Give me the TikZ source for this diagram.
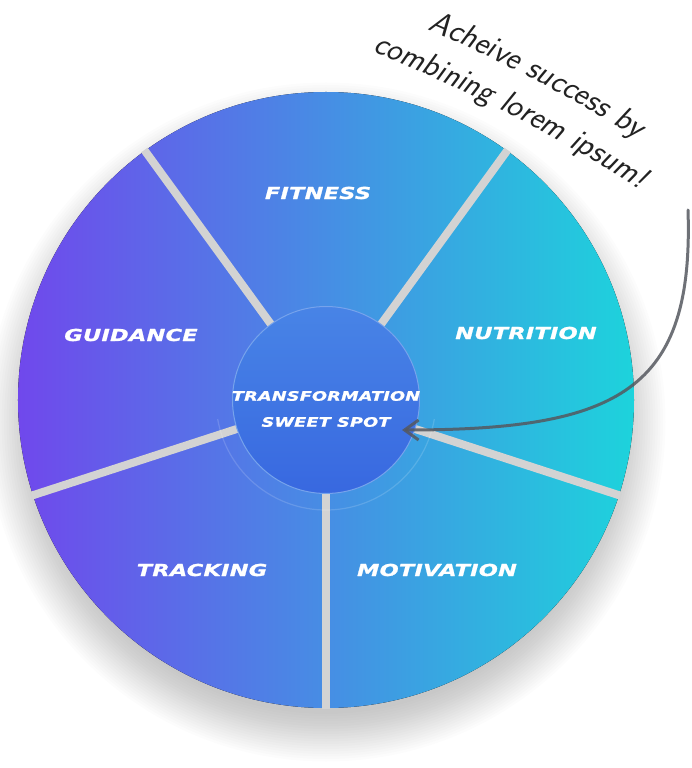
\documentclass[tikz,border=0pt]{standalone}
\usepackage{fontspec}
\usetikzlibrary{calc,arrows.meta,positioning,decorations.text}
\newfontfamily\labelfont{DejaVu Sans}[FakeStretch=1.36,FakeBold=1.2,LetterSpace=1.5]
\definecolor{wheelleft}{RGB}{112, 72, 236}
\definecolor{wheelright}{RGB}{29, 211, 220}
\definecolor{spokegray}{RGB}{211, 211, 211}
\definecolor{spottop}{RGB}{72, 132, 230}
\definecolor{spotbottom}{RGB}{56, 104, 224}
\definecolor{notegray}{RGB}{85, 88, 95}
\definecolor{inkblack}{RGB}{34, 34, 34}
\newcommand{\notefont}{\fontsize{32}{32}\selectfont\sffamily\itshape\color{inkblack}}
\tikzset{
  sectorlabel/.style={text=white, inner sep=0pt, font=\labelfont\bfseries\itshape\fontsize{16.5}{19}\selectfont},
  spotlabel/.style={text=white, inner sep=0pt, align=center, font=\labelfont\bfseries\itshape\fontsize{13}{26}\selectfont},
  spokeline/.style={draw=spokegray, line width=8pt},
  notearrow/.style={draw=notegray, draw opacity=0.85, line width=3pt, line cap=round, -{Straight Barb[length=14pt,width=20pt]}}
}

\begin{document}
\begin{tikzpicture}[x=1pt, y=1pt]
  \useasboundingbox (-326,-368) rectangle (366,400);
  \foreach \i in {0,...,19}
    \fill [black, opacity=0.013] (0,-22) circle (292+2.5*\i);
  \fill [left color=wheelleft, right color=wheelright] (0,0) circle (308);
  \foreach \a in {-90,-18,54,126,198}
    \draw [spokeline] (\a:92) -- (\a:309);
  \draw [white, opacity=0.15, line width=1.2pt] (190:110) arc (190:350:110);
  \node [circle, minimum size=187pt, inner sep=0pt, top color=spottop, bottom color=spotbottom, draw=spottop!75!white, line width=1pt] (spot) at (0,0) {};
  \node [spotlabel] (spottext) at ([yshift=-9pt]spot.center) {TRANSFORMATION\\SWEET SPOT};

  \node [sectorlabel] (fitness) at (-8,207) {FITNESS};
  \node [sectorlabel] (nutrition) at (200,67) {NUTRITION};
  \node [sectorlabel] (motivation) at (111,-170) {MOTIVATION};
  \node [sectorlabel] (tracking) at (-124,-170) {TRACKING};
  \node [sectorlabel] (guidance) at (-195,65) {GUIDANCE};

  \path [decorate, decoration={text along path, text align=center, text={|\notefont|Acheive success by}}]
    (-514,-1068) ++(70:1565) arc (70:55:1565);
  \path [decorate, decoration={text along path, text align=center, text={|\notefont|combining lorem ipsum!}}]
    (-514,-1068) ++(71:1523) arc (71:54.5:1523);

  \coordinate (arrowstart) at (362,190);
  \coordinate (arrowtip) at (76,-30);
  \draw [notearrow] (arrowstart) .. controls (368,10) and (294,-30) .. (arrowtip);
\end{tikzpicture}
\end{document}
